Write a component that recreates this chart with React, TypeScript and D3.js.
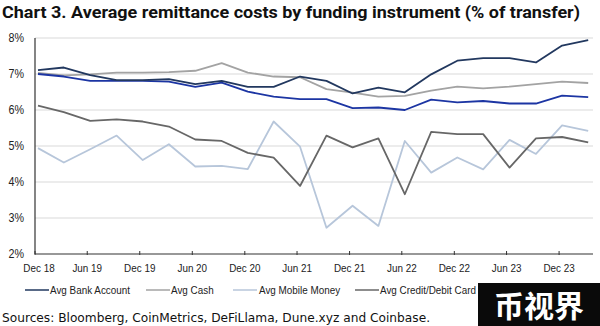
import React from "react";
import * as d3 from "d3";

const dates = [
  "2018-12", "2019-03", "2019-06", "2019-09", "2019-12", "2020-03", "2020-06", "2020-09",
  "2020-12", "2021-03", "2021-06", "2021-09", "2021-12", "2022-03", "2022-06", "2022-09",
  "2022-12", "2023-03", "2023-06", "2023-09", "2023-12", "2024-03",
];
const bankAccount = [7.11, 7.18, 6.97, 6.83, 6.83, 6.86, 6.72, 6.81, 6.64, 6.64, 6.93, 6.81, 6.46, 6.62, 6.49, 6.99, 7.37, 7.44, 7.44, 7.32, 7.79, 7.94];
const cash = [7.03, 6.96, 6.99, 7.04, 7.04, 7.05, 7.09, 7.30, 7.04, 6.93, 6.91, 6.58, 6.48, 6.37, 6.39, 6.54, 6.65, 6.60, 6.65, 6.72, 6.79, 6.75];
const mobileMoney = [4.94, 4.54, 4.91, 5.29, 4.61, 5.05, 4.43, 4.45, 4.36, 5.68, 4.98, 2.73, 3.34, 2.78, 5.14, 4.26, 4.68, 4.35, 5.17, 4.78, 5.57, 5.42];
const creditDebit = [6.12, 5.94, 5.70, 5.74, 5.68, 5.54, 5.18, 5.14, 4.81, 4.68, 3.89, 5.29, 4.96, 5.21, 3.66, 5.39, 5.33, 5.33, 4.40, 5.21, 5.25, 5.10];
const globalAvg = [7.00, 6.93, 6.81, 6.81, 6.81, 6.79, 6.64, 6.76, 6.51, 6.37, 6.30, 6.30, 6.05, 6.07, 6.00, 6.29, 6.21, 6.25, 6.18, 6.18, 6.40, 6.36];

const yTicks = [2, 3, 4, 5, 6, 7, 8];
const xTickLabels = ["Dec 18", "Jun 19", "Dec 19", "Jun 20", "Dec 20", "Jun 21", "Dec 21", "Jun 22", "Dec 22", "Jun 23", "Dec 23"];
const xTickDates = ["2018-12", "2019-06", "2019-12", "2020-06", "2020-12", "2021-06", "2021-12", "2022-06", "2022-12", "2023-06", "2023-12"];

const seriesNames = ["Avg Bank Account", "Avg Cash", "Avg Mobile Money", "Avg Credit/Debit Card", "Global Avg Cost"];
const seriesColors = ["#22385f", "#a3a3a3", "#b7c6da", "#676767", "#1c35a3"];

const W = 600;
const H = 326;
const parse = d3.timeParse("%Y-%m");
const SX = 0.86;

export default function App() {
  const x = d3.scaleTime()
    .domain([parse(dates[0])!, parse(dates[dates.length - 1])!])
    .range([38, 588.2]);
  const y = d3.scaleLinear().domain([2, 8]).range([254, 38]);
  const plotLeft = 35;
  const plotRight = 593;

  const line = d3.line<number>()
    .x((_, i) => x(parse(dates[i])!))
    .y((d) => y(d));

  const drawOrder = [2, 3, 1, 4, 0];
  const data = [bankAccount, cash, mobileMoney, creditDebit, globalAvg];

  const font = "'Liberation Sans', Arial, sans-serif";

  const legendX = [25, 146, 233, 355, 498];
  const legendTextX = [50, 171, 259, 380, 524];

  return (
    <svg width={W} height={H} style={{ position: "absolute", left: 0, top: 0, background: "#fff" }}>
      <rect x={0} y={0} width={W} height={H} fill="#fff" />
      <text x={2} y={18} fontFamily="Roboto, 'Liberation Sans', sans-serif" fontWeight="bold" fontSize={17}
        textLength={578} lengthAdjust="spacingAndGlyphs" fill="#111">
        Chart 3. Average remittance costs by funding instrument (% of transfer)
      </text>

      {yTicks.map((t) => (
        <g key={t}>
          {t > 2 && <line x1={plotLeft} x2={plotRight} y1={y(t)} y2={y(t)} stroke="#d9d9d9" strokeWidth={1} />}
          <g transform={`translate(24,${y(t)}) scale(${SX},1)`}>
            <text x={0} y={0} dy="0.35em" textAnchor="end" fontFamily={font} fontSize={12.5} fill="#222">
              {t}%
            </text>
          </g>
        </g>
      ))}

      {drawOrder.map((k) => (
        <path key={k} d={line(data[k]) || ""} fill="none" stroke={seriesColors[k]} strokeWidth={1.8}
          strokeLinejoin="round" />
      ))}

      <line x1={plotLeft} x2={plotLeft} y1={38} y2={254} stroke="#333" strokeWidth={1.2} />
      <line x1={plotLeft} x2={plotRight} y1={254} y2={254} stroke="#333" strokeWidth={1.2} />
      {xTickDates.map((d, i) => {
        const xp = i === 0 ? plotLeft : x(parse(d)!) - 3;
        return (
          <g key={d}>
            <line x1={xp} x2={xp} y1={251} y2={255} stroke="#333" strokeWidth={1} />
            <g transform={`translate(${i === 0 ? 39 : xp},268) scale(${SX},1)`}>
              <text x={0} y={0} dy="0.35em" textAnchor="middle" fontFamily={font} fontSize={11.5} fill="#222">
                {xTickLabels[i]}
              </text>
            </g>
          </g>
        );
      })}

      {seriesNames.map((n, i) => (
        <g key={n}>
          <line x1={legendX[i]} x2={legendX[i] + 24} y1={290} y2={290} stroke={seriesColors[i]} strokeWidth={1.5} />
          <g transform={`translate(${legendTextX[i]},290) scale(${SX},1)`}>
            <text x={0} y={0} dy="0.35em" fontFamily={font} fontSize={11.5} fill="#222">
              {n}
            </text>
          </g>
        </g>
      ))}

      <text x={2} y={322} fontFamily="'DejaVu Sans', sans-serif" fontSize={11.5} textLength={428}
        lengthAdjust="spacingAndGlyphs" fill="#111">
        Sources: Bloomberg, CoinMetrics, DeFiLlama, Dune.xyz and Coinbase.
      </text>

      <rect x={478} y={283} width={122} height={43} fill="#0a0a0a" />
      <text x={539} y={306} dy="0.35em" textAnchor="middle" fontFamily="'Noto Sans CJK SC', sans-serif"
        fontWeight="bold" fontSize={30} fill="#fff">
        币视界
      </text>
    </svg>
  );
}
